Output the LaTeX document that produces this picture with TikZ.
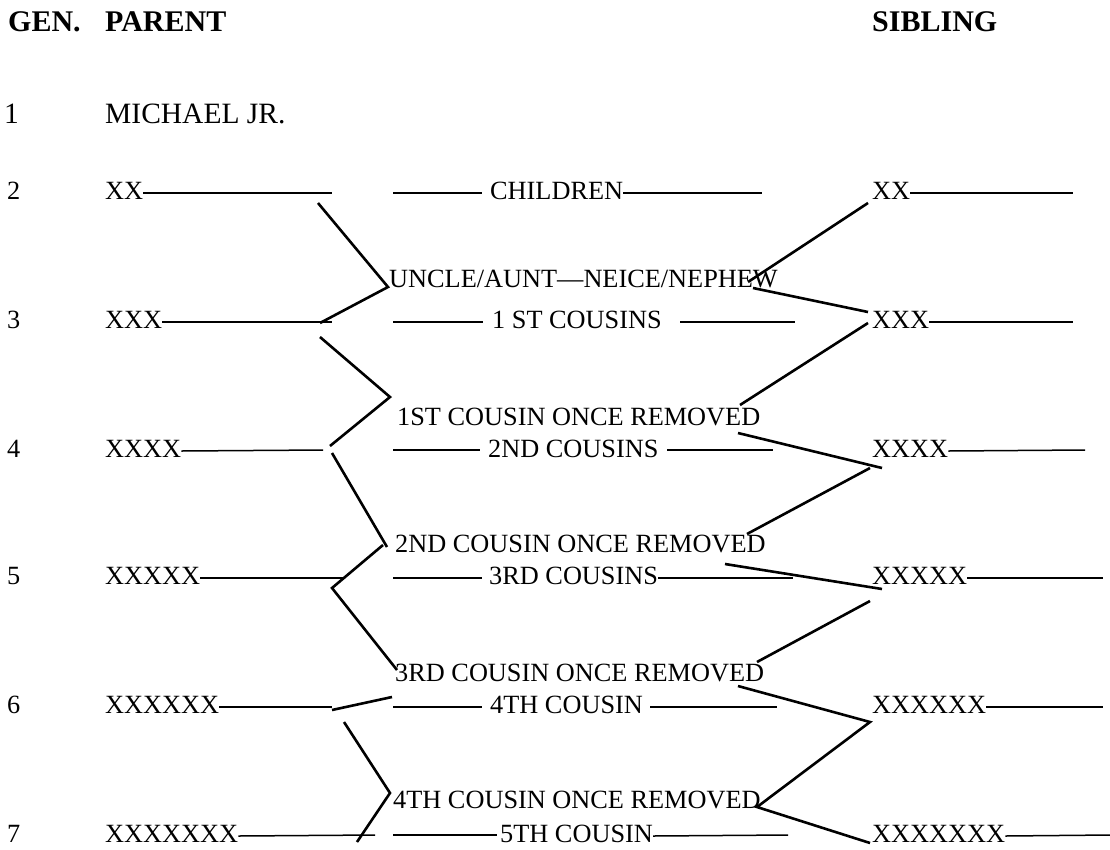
\documentclass[tikz,border=0pt]{standalone}
\usepackage{fontspec}
\setmainfont{Liberation Serif}
\begin{document}
\begin{tikzpicture}[x=1pt,y=-1pt,
  txt/.style={anchor=base west,inner sep=0pt,font=\fontsize{26.3}{30}\selectfont},
  head/.style={anchor=base west,inner sep=0pt,font=\fontsize{30}{34}\selectfont\bfseries},
  big/.style={anchor=base west,inner sep=0pt,font=\fontsize{29.5}{34}\selectfont},
  rule/.style={line width=1.5pt},
  zig/.style={line width=2.6pt,line join=miter,line cap=butt}]
\useasboundingbox (0,0) rectangle (1110,849);

% headings
\node[head] (hgen) at (8,31) {GEN.};
\node[head] (hpar) at (105,31) {PARENT};
\node[head] (hsib) at (872,31) {SIBLING};

% row 1
\node[big] (g1) at (4,123) {1};
\node[big] (michael) at (105,123) {MICHAEL JR.};

% generation numbers
\node[txt] (g2) at (7,199) {2};
\node[txt] (g3) at (7,328) {3};
\node[txt] (g4) at (7,457) {4};
\node[txt] (g5) at (7,584) {5};
\node[txt] (g6) at (7,713) {6};
\node[txt] (g7) at (7,842) {7};

% parents
\node[txt] (p2) at (105,199) {XX};
\node[txt] (p3) at (105,328) {XXX};
\node[txt] (p4) at (105,457) {XXXX};
\node[txt] (p5) at (105,584) {XXXXX};
\node[txt] (p6) at (105,713) {XXXXXX};
\node[txt] (p7) at (105,842) {XXXXXXX};

% siblings
\node[txt] (s2) at (872,199) {XX};
\node[txt] (s3) at (872,328) {XXX};
\node[txt] (s4) at (872,457) {XXXX};
\node[txt] (s5) at (872,584) {XXXXX};
\node[txt] (s6) at (872,713) {XXXXXX};
\node[txt] (s7) at (872,842) {XXXXXXX};

% middle relationship labels
\node[txt] (c2) at (490,199) {CHILDREN};
\node[txt] (u3) at (389,287) {UNCLE/AUNT—NEICE/NEPHEW};
\node[txt] (c3) at (492,328) {1 ST COUSINS};
\node[txt] (r4) at (397,425) {1ST COUSIN ONCE REMOVED};
\node[txt] (c4) at (488,457) {2ND COUSINS};
\node[txt] (r5) at (395,552) {2ND COUSIN ONCE REMOVED};
\node[txt] (c5) at (489,584) {3RD COUSINS};
\node[txt] (r6) at (395,681) {3RD COUSIN ONCE REMOVED};
\node[txt] (c6) at (490,713) {4TH COUSIN};
\node[txt] (r7) at (393,808) {4TH COUSIN ONCE REMOVED};
\node[txt] (c7) at (500,842) {5TH COUSIN};

% parent rules
\draw[rule] ([yshift=6pt]p2.base east) -- (332,193);
\draw[rule] ([yshift=6pt]p3.base east) -- (332,322);
\draw[rule] ([yshift=6pt]p4.base east) -- (323,450);
\draw[rule] ([yshift=6pt]p5.base east) -- (345,578);
\draw[rule] ([yshift=6pt]p6.base east) -- (332,707);
\draw[rule] ([yshift=6pt]p7.base east) -- (375,835);

% sibling rules
\draw[rule] ([yshift=6pt]s2.base east) -- (1073,193);
\draw[rule] ([yshift=6pt]s3.base east) -- (1073,322);
\draw[rule] ([yshift=6pt]s4.base east) -- (1085,450);
\draw[rule] ([yshift=6pt]s5.base east) -- (1103,578);
\draw[rule] ([yshift=6pt]s6.base east) -- (1103,707);
\draw[rule] ([yshift=6pt]s7.base east) -- (1110,835);

% middle rules
\draw[rule] (393,193) -- (482,193);
\draw[rule] ([yshift=6pt]c2.base east) -- (762,193);
\draw[rule] (393,322) -- (483,322);
\draw[rule] (680,322) -- (795,322);
\draw[rule] (393,450) -- (480,450);
\draw[rule] (667,450) -- (773,450);
\draw[rule] (393,578) -- (482,578);
\draw[rule] ([yshift=6pt]c5.base east) -- (793,578);
\draw[rule] (393,707) -- (482,707);
\draw[rule] (650,707) -- (777,707);
\draw[rule] (393,835) -- (497,835);
\draw[rule] ([yshift=6pt]c7.base east) -- (788,835);

% left zigzags
\draw[zig] (318,203) -- (388,287) -- (320,323);
\draw[zig] (320,337) -- (390,397) -- (330,446);
\draw[zig] (332,453) -- (387,547);
\draw[zig] (383,545) -- (332,588) -- (397,670);
\draw[zig] (332,710) -- (392,697);
\draw[zig] (344,722) -- (390,793) -- (357,842);

% right zigzags
\draw[zig] (868,203) -- (748,282);
\draw[zig] (753,288) -- (868,312);
\draw[zig] (868,323) -- (740,405);
\draw[zig] (738,433) -- (882,468);
\draw[zig] (870,468) -- (747,534);
\draw[zig] (725,564) -- (882,589);
\draw[zig] (870,601) -- (757,662);
\draw[zig] (738,686) -- (870,722) -- (757,807) -- (870,843);
\end{tikzpicture}
\end{document}
